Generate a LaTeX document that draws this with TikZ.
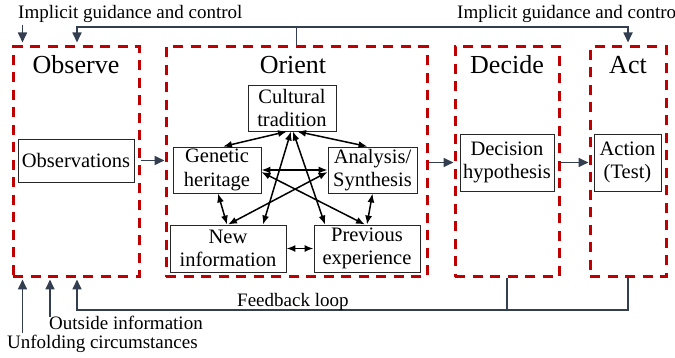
\documentclass[tikz,border=0pt]{standalone}
\usepackage{fontspec}
\setmainfont{Liberation Serif}
\usetikzlibrary{arrows.meta,calc}

\definecolor{phasered}{RGB}{192,0,0}
\definecolor{slate}{RGB}{51,63,80}

\begin{document}
\begin{tikzpicture}[x=1pt,y=-1pt,
  phase/.style={draw=phasered, dash pattern=on 10pt off 7.5pt, line width=3pt, inner sep=0pt},
  item/.style={draw=black!85, line width=0.9pt, fill=white, align=center, inner sep=0pt,
               font=\fontsize{20.5}{23.5}\selectfont},
  wire/.style={draw=slate, line width=1.7pt},
  flow/.style={wire, -{Triangle[length=10pt,width=9pt]}},
  link/.style={draw=black, line width=1.5pt, {Latex[length=9pt,width=7pt]}-{Latex[length=9pt,width=7pt]}},
  lbl/.style={font=\fontsize{19}{21}\selectfont, inner sep=0pt},
  phasetitle/.style={font=\fontsize{26}{28}\selectfont, inner sep=0pt, anchor=base}]

\useasboundingbox (0,0) rectangle (675,358);

% phase frames
\node[phase, minimum width=126pt, minimum height=230pt] (obsbox) at (76,162) {};
\node[phase, minimum width=261pt, minimum height=230pt] (oribox) at (296.5,162) {};
\node[phase, minimum width=104pt, minimum height=230pt] (decbox) at (507,162) {};
\node[phase, minimum width=76pt,  minimum height=230pt] (actbox) at (628,162) {};

% phase titles
\node[phasetitle] (tobs) at (76,74) {Observe};
\node[phasetitle] (tori) at (293,74) {Orient};
\node[phasetitle] (tdec) at (507,74) {Decide};
\node[phasetitle] (tact) at (628,74) {Act};

% boxes
\node[item, minimum width=116pt, minimum height=43pt] (obs) at (76,160.5) {Observations};
\node[item, minimum width=88pt,  minimum height=46pt] (cult) at (292,108) {Cultural\\tradition};
\node[item, minimum width=88pt,  minimum height=46pt] (gen) at (217,170) {Genetic\\heritage};
\node[item, minimum width=89pt,  minimum height=46pt] (ana) at (372.5,170) {Analysis/\\Synthesis};
\node[item, minimum width=116pt, minimum height=47pt] (new) at (228,248.5) {New\\information};
\node[item, minimum width=106pt, minimum height=47pt] (prev) at (367,248.5) {Previous\\experience};
\node[item, minimum width=94pt,  minimum height=57pt] (dec) at (507,162.5) {Decision\\hypothesis};
\node[item, minimum width=67pt,  minimum height=57pt] (act) at (627.5,162.5) {Action\\(Test)};

% links inside the orientation phase
\draw[link] ([xshift=6pt]gen.north) -- ([xshift=-5pt]cult.south);
\draw[link] ([xshift=5pt]cult.south) -- ([xshift=-5pt]ana.north);
\draw[link] ([xshift=-1pt]cult.south) -- ([xshift=35pt]new.north);
\draw[link] ([xshift=1pt]cult.south) -- ([xshift=-42pt]prev.north);
\draw[link] (gen.east) -- (ana.west);
\draw[link] ([yshift=-2pt]gen.east) -- ([xshift=-2pt]prev.north);
\draw[link] ([yshift=-2pt]ana.west) -- (new.north);
\draw[link] ([xshift=1pt]gen.south) -- ([xshift=-1pt]new.north);
\draw[link] (ana.south) -- (prev.north);
\draw[link] (new.east) -- (prev.west);

% main flow between phases
\draw[flow] (obsbox.east |- obs.east) -- (oribox.west |- obs.east);
\draw[flow] (oribox.east |- dec.west) -- (decbox.west |- dec.west);
\draw[flow] (decbox.east |- dec.east) -- (actbox.west |- dec.east);

% implicit guidance and control
\node[lbl, anchor=base west] (igl) at (18,19) {Implicit guidance and control};
\node[lbl, anchor=base west] (igr) at (457,19) {Implicit guidance and contro};
\coordinate (tj) at (oribox.north |- 0,27);
\coordinate (tl) at (77,27);
\coordinate (tr) at (628,27);
\coordinate (ig) at (22.5,25);
\draw[wire] (oribox.north) -- (tj);
\draw[flow, shorten >=3pt] (tj) -- (tl) -- (tl |- obsbox.north);
\draw[flow, shorten >=3pt] (tj) -- (tr) -- (tr |- actbox.north);
\draw[flow, shorten >=3pt] (ig) -- (ig |- obsbox.north);

% feedback loop
\coordinate (fb) at (77,310);
\draw[wire] (decbox.south) -- (decbox.south |- fb);
\draw[flow, shorten >=1pt] (actbox.south) -- (actbox.south |- fb) -- (fb) -- (fb |- obsbox.south);
\node[lbl, anchor=base west] (fbl) at (237,306) {Feedback loop};

% outside inputs
\coordinate (oi) at (50,317);
\coordinate (uc) at (22.5,333);
\draw[flow, shorten >=1pt] (oi) -- (oi |- obsbox.south);
\draw[flow, shorten >=1pt] (uc) -- (uc |- obsbox.south);
\node[lbl, anchor=base west] (oil) at (49,330) {Outside information};
\node[lbl, anchor=base west] (ucl) at (7,348) {Unfolding circumstances};

\end{tikzpicture}
\end{document}
